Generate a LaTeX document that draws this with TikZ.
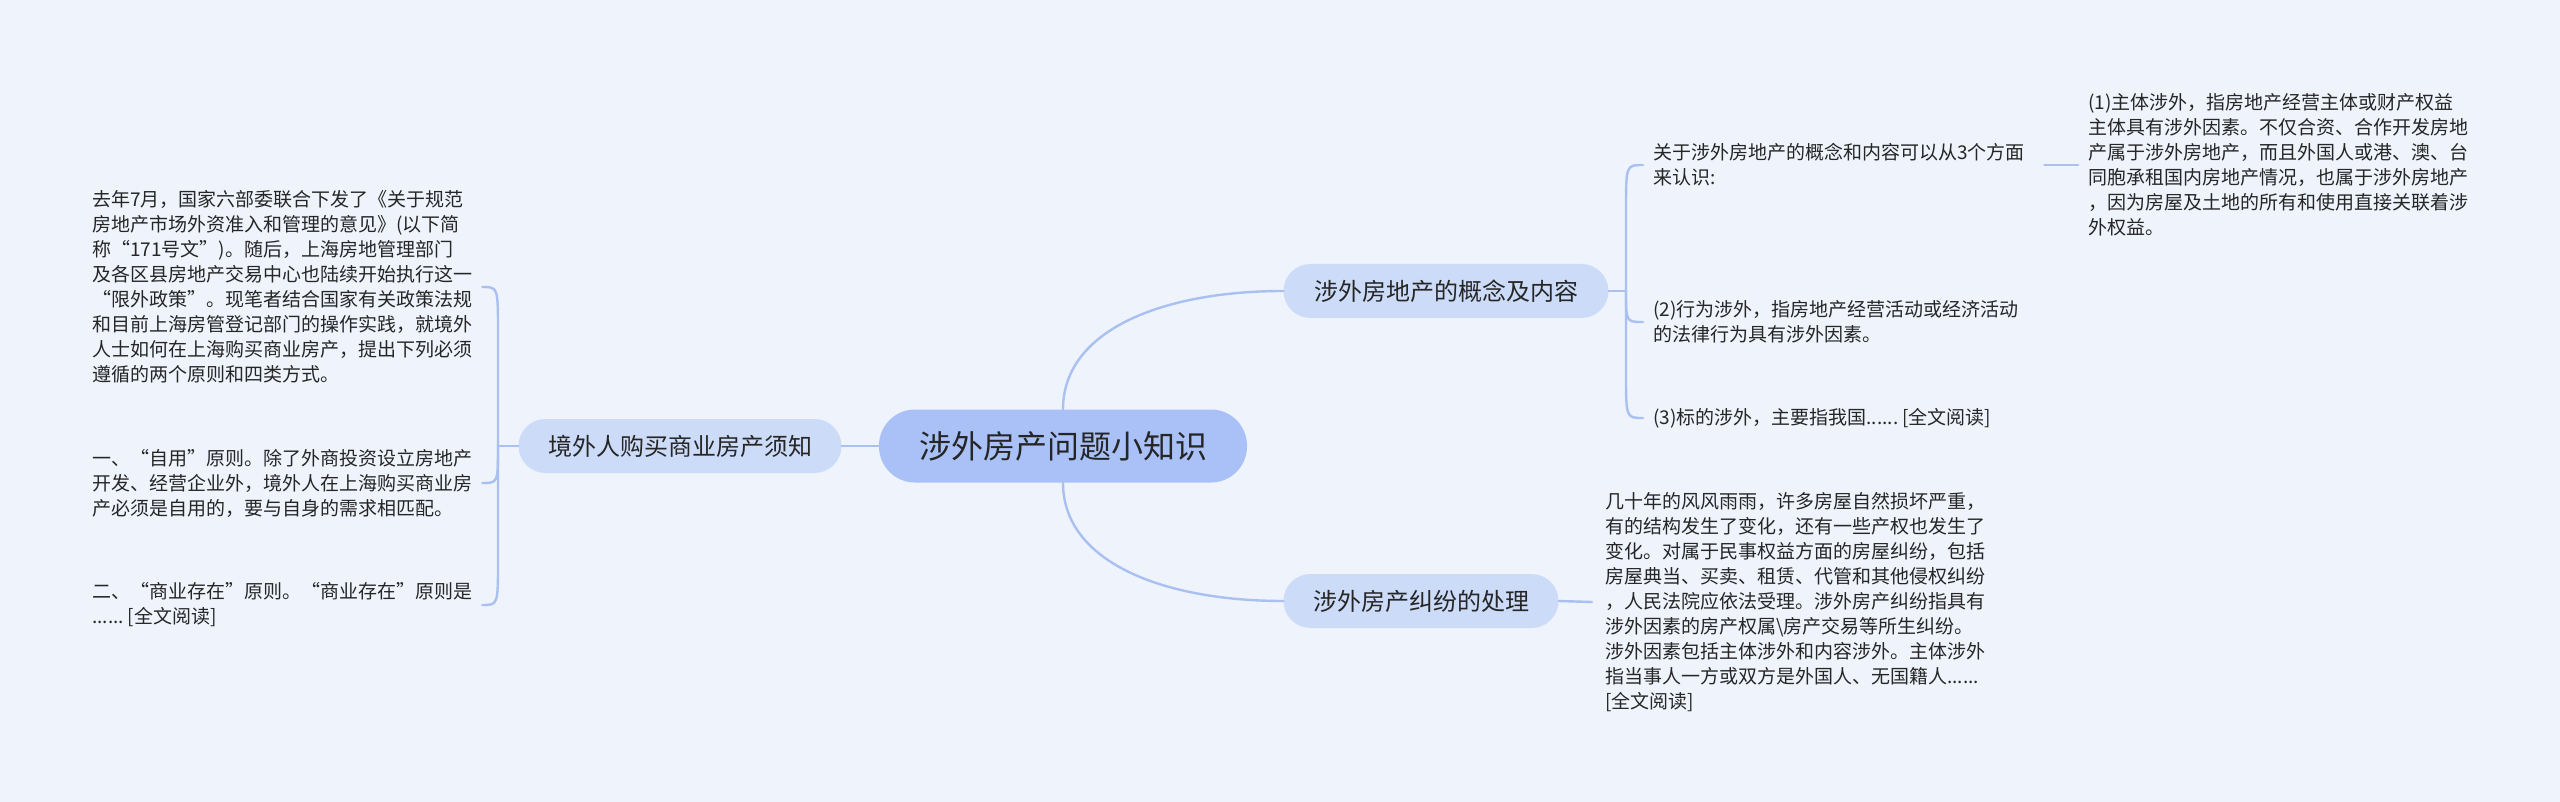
\documentclass[tikz,border=0pt]{standalone}
\usepackage{fontspec}
\setmainfont{Noto Sans CJK SC}
\definecolor{bgc}{HTML}{EEF3FC}
\definecolor{mainc}{HTML}{A9C1F7}
\definecolor{subc}{HTML}{CCDBF8}
\definecolor{linec}{HTML}{A9C0F0}
\definecolor{textc}{HTML}{262626}
\newcommand{\smallgap}{\hspace{0.2em}}
\begin{document}
\begin{tikzpicture}[x=1pt,y=-1pt,
  conn/.style={draw=linec, line width=2.4pt, line cap=round},
  centralbox/.style={fill=mainc, rounded corners=36pt, minimum height=73pt, minimum width=368pt, inner sep=0pt, font=\fontsize{32}{38}\selectfont, text=textc},
  subbox/.style={fill=subc, rounded corners=27pt, minimum height=54pt, inner sep=0pt, font=\fontsize{24}{30}\selectfont, text=textc},
  txt/.style={font=\fontsize{19}{25}\selectfont, text=textc, align=left, inner sep=0pt, anchor=west}]
\useasboundingbox (0,0) rectangle (2560,802);
\fill[bgc] (0,0) rectangle (2560,802);

\node[centralbox] (c) at (1063,446) {涉外房产问题小知识};
\node[subbox, minimum width=325pt] (n1) at (1446,291) {涉外房地产的概念及内容};
\node[subbox, minimum width=275pt] (n2) at (1421,601) {涉外房产纠纷的处理};
\node[subbox, minimum width=323pt] (n3) at (680,446) {境外人购买商业房产须知};

% left texts
\node[txt, text width=380pt] (l1) at (92,287) {去年7月，国家六部委联合下发了《关于规范\\房地产市场外资准入和管理的意见》(以下简\\称“171号文”)。随后，上海房地管理部门\\及各区县房地产交易中心也陆续开始执行这一\\“限外政策”。现笔者结合国家有关政策法规\\和目前上海房管登记部门的操作实践，就境外\\人士如何在上海购买商业房产，提出下列必须\\遵循的两个原则和四类方式。};
\node[txt, text width=380pt] (l2) at (92,483) {一、“自用”原则。除了外商投资设立房地产\\开发、经营企业外，境外人在上海购买商业房\\产必须是自用的，要与自身的需求相匹配。};
\node[txt, text width=380pt] (l3) at (92,605) {二、“商业存在”原则。“商业存在”原则是\\{}......\smallgap[全文阅读]};

% right texts
\node[txt, text width=380pt] (r0) at (1653,165) {关于涉外房地产的概念和内容可以从3个方面\\来认识:};
\node[txt, text width=380pt] (r1) at (2088,165) {(1)主体涉外，指房地产经营主体或财产权益\\主体具有涉外因素。不仅合资、合作开发房地\\产属于涉外房地产，而且外国人或港、澳、台\\同胞承租国内房地产情况，也属于涉外房地产\\，因为房屋及土地的所有和使用直接关联着涉\\外权益。};
\node[txt, text width=380pt] (r2) at (1653,322) {(2)行为涉外，指房地产经营活动或经济活动\\的法律行为具有涉外因素。};
\node[txt, text width=380pt] (r3) at (1653,418) {(3)标的涉外，主要指我国......\smallgap[全文阅读]};

% bottom text
\node[txt, text width=380pt] (b) at (1605,602) {几十年的风风雨雨，许多房屋自然损坏严重，\\有的结构发生了变化，还有一些产权也发生了\\变化。对属于民事权益方面的房屋纠纷，包括\\房屋典当、买卖、租赁、代管和其他侵权纠纷\\，人民法院应依法受理。涉外房产纠纷指具有\\涉外因素的房产权属\textbackslash 房产交易等所生纠纷。\\涉外因素包括主体涉外和内容涉外。主体涉外\\指当事人一方或双方是外国人、无国籍人......\\{}[全文阅读]};

% main connectors
\draw[conn] (c.north) .. controls +(0,-80) and +(-119,0) .. (n1.west);
\draw[conn] (c.south) .. controls +(0,80) and +(-119,0) .. (n2.west);
\draw[conn] (c.west) -- (n3.east);

% right bracket
\coordinate (j1) at (1626,291);
\draw[conn] (n1.east) -- (j1);
\draw[conn] (j1) -- (1626,210) .. controls (1626,165) .. ([xshift=-10pt]r0.west);
\draw[conn] (j1) .. controls (1626,322) .. ([xshift=-10pt]r2.west);
\draw[conn] (j1) -- (1626,373) .. controls (1626,418) .. ([xshift=-10pt]r3.west);
\draw[conn] ([xshift=11pt]r0.east) -- ([xshift=-10pt]r1.west);

% left bracket
\coordinate (j3) at (498,446);
\draw[conn] (n3.west) -- (j3);
\draw[conn] (j3) -- (498,333) .. controls (498,287) .. ([xshift=10pt]l1.east);
\draw[conn] (j3) .. controls (498,483) .. ([xshift=10pt]l2.east);
\draw[conn] (j3) -- (498,560) .. controls (498,605) .. ([xshift=10pt]l3.east);

% bottom
\draw[conn] (n2.east) -- ([xshift=-13pt]b.west);
\end{tikzpicture}
\end{document}
